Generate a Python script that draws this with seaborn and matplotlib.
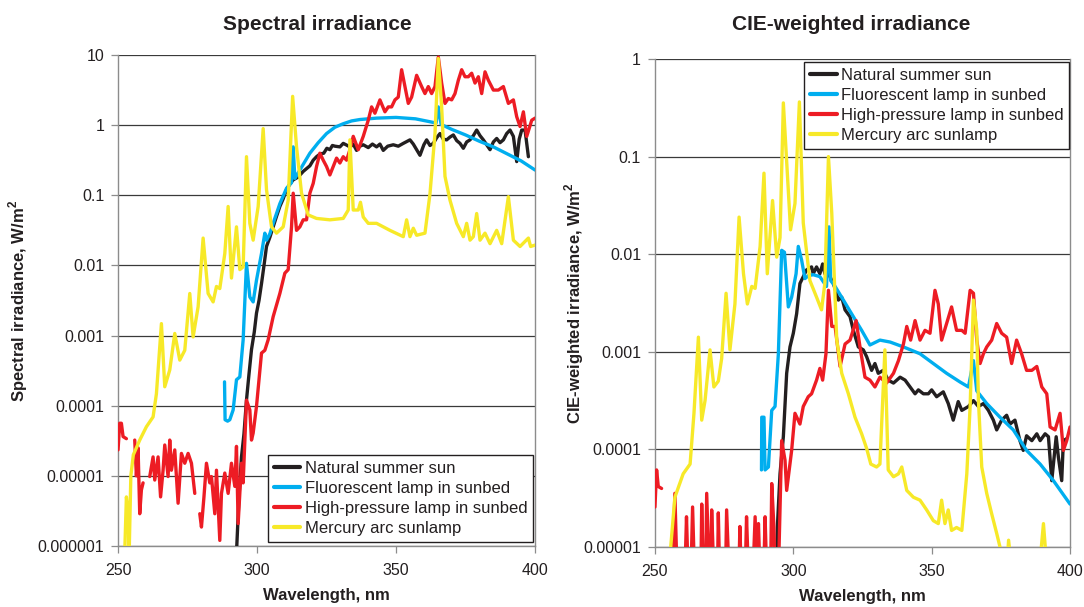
import numpy as np
import pandas as pd
import seaborn as sns
import matplotlib.pyplot as plt
from matplotlib.lines import Line2D

series_names = ['Natural summer sun', 'Fluorescent lamp in sunbed',
                'High-pressure lamp in sunbed', 'Mercury arc sunlamp']
series_colors = ['#231f20', '#00aeef', '#ed1c24', '#f7e928']

nan = np.nan
GAP = (nan, nan)  # break in a trace

# Spectral irradiance: (wavelength nm, log10 of W/m2)
spec_sun = [(292.6, -6.1), (293.5, -5.3), (294.4, -4.73), (295.3, -4.4), (296.2, -3.92), (297.1, -3.55),
            (298.0, -3.20), (299.0, -2.95), (299.8, -2.68), (300.7, -2.50), (301.6, -2.26), (302.5, -2.0),
            (303.4, -1.73), (304.6, -1.60), (305.8, -1.45), (307.0, -1.30), (308.2, -1.16), (309.4, -1.05),
            (310.6, -0.92), (311.8, -0.84), (313.0, -0.78), (314.8, -0.74), (316.6, -0.66), (317.8, -0.62),
            (319.0, -0.58), (320.2, -0.50), (321.4, -0.45), (322.7, -0.41), (324.0, -0.40), (325.1, -0.33),
            (326.2, -0.35), (327.1, -0.29), (328.0, -0.30), (329.8, -0.31), (331.0, -0.26), (332.0, -0.28),
            (333.4, -0.31), (334.6, -0.27), (335.8, -0.36), (337.0, -0.30), (338.2, -0.28), (340.0, -0.32),
            (341.5, -0.27), (343.0, -0.31), (344.2, -0.27), (345.4, -0.36), (347.0, -0.30), (349.0, -0.28),
            (350.8, -0.30), (352.6, -0.26), (355.0, -0.21), (356.2, -0.27), (357.4, -0.35), (358.6, -0.43),
            (360.0, -0.28), (361.0, -0.21), (362.2, -0.29), (363.4, -0.26), (364.6, -0.18), (365.8, -0.12),
            (367.0, -0.20), (368.2, -0.21), (369.4, -0.17), (370.6, -0.14), (371.8, -0.22), (373.0, -0.26),
            (374.2, -0.33), (375.4, -0.24), (376.6, -0.21), (377.8, -0.15), (379.0, -0.07), (380.2, -0.15),
            (381.4, -0.21), (382.6, -0.28), (383.8, -0.35), (385.0, -0.24), (386.2, -0.19), (387.4, -0.25),
            (388.6, -0.21), (389.8, -0.12), (391.0, -0.07), (392.2, -0.16), (393.4, -0.52), (394.3, -0.20),
            (395.2, -0.07), (396.4, -0.07), (397.6, -0.45)]

spec_fluor = [(288.3, -3.66), (288.5, -4.2), (289.4, -4.22), (290.2, -4.2), (291.4, -4.06), (292.6, -3.63),
              (293.8, -3.59), (295.0, -3.06), (296.2, -1.97), (297.4, -2.45), (298.6, -2.52), (299.8, -2.21),
              (301.6, -1.83), (302.8, -1.54), (303.4, -1.64), (304.6, -1.55), (305.8, -1.40), (308.2, -1.12),
              (310.6, -0.90), (312.4, -0.82), (313.0, -0.31), (313.6, -0.76), (316.0, -0.60), (319.0, -0.40),
              (322.0, -0.25), (325.0, -0.12), (328.0, -0.03), (331.0, 0.02), (334.0, 0.06), (337.0, 0.08),
              (343.0, 0.10), (350.0, 0.11), (357.0, 0.09), (362.0, 0.05), (364.4, 0.03), (365.2, 0.26),
              (366.2, 0.01), (370.0, -0.06), (375.0, -0.14), (380.0, -0.23), (385.0, -0.31), (390.0, -0.41),
              (395.0, -0.51), (400.0, -0.64)]

spec_hp = [(250.0, -4.63), (250.6, -4.25), (251.2, -4.25), (251.8, -4.44), (253.0, -4.47), GAP,
           (256.0, -4.49), (256.6, -5.0), (257.2, -4.6), (257.8, -5.54), (258.4, -5.20), (259.0, -5.1), GAP,
           (261.4, -5.01), (262.6, -4.73), (263.2, -5.06), (264.4, -4.73), (265.3, -5.3), (266.2, -4.92),
           (266.8, -4.56), (268.0, -5.01), (268.6, -4.49), (269.2, -4.92), (270.4, -4.63), (271.0, -5.01),
           (271.6, -5.39), (272.8, -4.68), (274.0, -4.82), (275.2, -4.68), (276.4, -4.82), (277.6, -5.25), GAP,
           (279.4, -5.54), (280.0, -5.73), (280.9, -5.3), (281.8, -4.82), (283.0, -5.10), (283.6, -5.01),
           (284.8, -5.54), (285.4, -4.92), (286.6, -5.92), (287.2, -5.25), (288.4, -4.96), (289.6, -5.25),
           (290.8, -4.82), (292.0, -5.15), (292.6, -4.58), (293.2, -5.68), (294.4, -4.82), (295.0, -5.10),
           (296.2, -3.92), (297.4, -4.06), (298.0, -4.49), (298.6, -4.39), (299.8, -4.01), (301.6, -3.25),
           (302.8, -3.21), (304.0, -3.06), (305.8, -2.73), (308.2, -2.40), (310.0, -2.11), (311.2, -2.06),
           (312.4, -1.45), (313.0, -0.97), (314.2, -1.50), (315.4, -1.45), (316.6, -1.35), (317.8, -1.35),
           (319.0, -0.97), (320.2, -0.83), (321.4, -0.59), (322.6, -0.40), (323.8, -0.50), (325.0, -0.59),
           (326.2, -0.71), (327.4, -0.59), (328.6, -0.47), (329.8, -0.54), (331.0, -0.45), (332.2, -0.50),
           (333.4, -0.35), (334.6, -0.16), (336.4, -0.35), (338.2, -0.16), (340.0, 0.07), (341.2, 0.26),
           (342.4, 0.17), (344.2, 0.36), (346.0, 0.19), (347.2, 0.26), (348.4, 0.26), (349.6, 0.36),
           (350.8, 0.40), (352.0, 0.79), (353.2, 0.55), (354.4, 0.31), (355.6, 0.40), (357.4, 0.71),
           (359.2, 0.55), (360.4, 0.45), (361.6, 0.55), (362.8, 0.45), (364.0, 0.55), (365.2, 0.97),
           (366.4, 0.60), (367.6, 0.31), (368.8, 0.38), (370.0, 0.36), (371.2, 0.45), (372.4, 0.64),
           (373.6, 0.79), (374.8, 0.69), (376.0, 0.69), (377.2, 0.74), (378.4, 0.60), (379.6, 0.69),
           (380.8, 0.45), (382.0, 0.76), (383.2, 0.64), (385.0, 0.50), (386.8, 0.50), (388.6, 0.55),
           (390.4, 0.31), (392.2, 0.36), (393.4, 0.12), (394.6, -0.02), (395.8, 0.19), (397.0, -0.16),
           (398.8, 0.07), (400.0, 0.10)]

spec_hg = [(252.4, -6.1), (253.0, -5.3), (253.6, -5.5), (254.0, -6.1), (254.6, -5.0), (255.5, -4.7),
           (257.8, -4.49), (260.2, -4.3), (262.6, -4.16), (263.8, -3.83), (265.6, -2.83), (266.8, -3.73),
           (268.6, -3.49), (270.4, -2.97), (272.2, -3.35), (274.0, -3.21), (275.8, -2.40), (277.0, -3.02),
           (278.8, -2.59), (280.6, -1.61), (282.4, -2.40), (284.2, -2.52), (285.4, -2.30), (286.6, -2.33),
           (288.4, -1.83), (289.6, -1.16), (290.8, -2.18), (292.6, -1.45), (293.8, -2.06), (295.0, -2.02),
           (296.2, -0.45), (297.4, -1.40), (298.6, -1.64), (300.4, -1.16), (302.2, -0.05), (303.4, -0.92),
           (305.2, -1.45), (307.0, -1.54), (309.4, -1.45), (311.2, -1.07), (312.8, 0.41), (314.2, -0.31),
           (316.0, -0.97), (318.4, -1.28), (321.4, -1.33), (326.2, -1.35), (331.0, -1.33), (332.8, -1.21),
           (333.4, -0.21), (334.6, -1.21), (336.4, -1.21), (337.2, -1.10), (338.2, -1.31), (340.0, -1.40),
           (343.0, -1.40), (347.8, -1.50), (352.6, -1.59), (353.8, -1.35), (355.0, -1.59), (356.2, -1.47),
           (357.4, -1.57), (360.4, -1.54), (362.2, -0.98), (364.0, -0.12), (365.2, 0.95), (366.4, 0.26),
           (367.6, -0.73), (369.4, -1.07), (371.8, -1.40), (374.2, -1.59), (375.4, -1.40), (376.6, -1.64),
           (377.8, -1.59), (379.0, -1.26), (380.2, -1.64), (382.0, -1.54), (383.8, -1.69), (386.2, -1.50),
           (388.0, -1.69), (390.4, -1.02), (392.2, -1.64), (394.6, -1.73), (397.6, -1.61), (398.4, -1.73),
           (400.0, -1.71)]

# CIE-weighted irradiance: (wavelength nm, log10 of W/m2)
cie_sun = [(293.8, -5.3), (294.3, -4.76), (295.2, -4.25), (296.4, -3.87), (297.6, -3.22), (298.8, -2.95),
           (300.0, -2.81), (301.2, -2.61), (302.4, -2.30), (303.6, -2.23), (304.8, -2.16), (306.6, -2.13),
           (307.2, -2.20), (308.4, -2.13), (309.6, -2.20), (310.6, -2.10), (311.4, -2.20), (312.7, -2.20),
           (314.5, -2.30), (316.3, -2.47), (317.5, -2.44), (318.7, -2.57), (320.5, -2.64), (321.7, -2.78),
           (323.5, -2.95), (325.3, -2.98), (326.5, -3.05), (328.3, -3.19), (329.5, -3.12), (330.7, -3.22),
           (332.5, -3.19), (334.3, -3.29), (336.2, -3.32), (338.6, -3.26), (340.4, -3.29), (342.2, -3.36),
           (344.0, -3.43), (345.2, -3.39), (347.0, -3.43), (348.8, -3.43), (350.0, -3.39), (351.8, -3.46),
           (354.2, -3.41), (356.0, -3.53), (357.8, -3.70), (359.6, -3.51), (360.9, -3.60), (363.3, -3.56),
           (365.1, -3.50), (366.9, -3.56), (368.7, -3.53), (370.5, -3.60), (372.3, -3.70), (373.5, -3.80),
           (375.3, -3.70), (377.1, -3.65), (378.3, -3.74), (380.1, -3.70), (381.9, -3.91), (383.1, -4.01),
           (384.3, -3.86), (386.2, -3.91), (388.0, -3.84), (389.2, -3.91), (391.0, -3.84), (392.2, -3.87),
           (393.4, -4.32), (395.0, -3.87), (395.8, -4.08), (397.0, -4.32), (397.6, -3.91), (398.8, -3.89)]

cie_fluor = [(288.5, -4.21), (288.6, -3.67), (289.4, -3.67), (289.8, -4.21), (291.0, -4.18), (292.2, -3.60),
             (293.4, -3.56), (294.6, -3.02), (295.8, -1.96), (296.8, -1.98), (298.2, -2.54), (299.4, -2.44),
             (301.0, -2.20), (301.8, -1.92), (303.0, -2.06), (304.2, -2.25), (305.4, -2.22), (307.2, -2.21),
             (309.6, -2.23), (312.0, -2.33), (312.9, -1.72), (313.5, -2.27), (315.1, -2.33), (318.1, -2.47),
             (321.7, -2.64), (324.7, -2.78), (327.7, -2.93), (331.3, -2.88), (335.0, -2.90), (339.8, -2.95),
             (345.8, -3.02), (350.6, -3.12), (355.4, -3.22), (360.3, -3.31), (363.3, -3.36), (365.1, -3.09),
             (366.3, -3.40), (369.9, -3.53), (374.7, -3.67), (379.5, -3.80), (384.3, -4.01), (389.2, -4.15),
             (394.0, -4.32), (400.0, -4.56)]

cie_hp = [(250.0, -4.59), (250.6, -4.21), (251.2, -4.38), (252.4, -4.40), GAP,
          (256.4, -5.3), (257.2, -4.45), (258.0, -5.3), GAP,
          (260.8, -5.3), (261.4, -4.69), (262.0, -5.3), (263.0, -5.3), (263.6, -4.59), (264.3, -5.3), GAP,
          (266.6, -5.3), (266.9, -4.56), (267.5, -5.3), (268.3, -5.3), (268.7, -4.45), (269.6, -5.3),
          (270.1, -5.3), (270.5, -4.62), (271.3, -5.3), GAP,
          (272.6, -5.3), (272.9, -4.65), (273.4, -5.3), GAP,
          (275.5, -5.3), (275.9, -4.62), (276.8, -5.3), GAP,
          (280.3, -5.3), (280.7, -4.79), (281.2, -5.3), GAP,
          (282.6, -5.3), (283.1, -4.69), (283.8, -5.3), (285.4, -5.3), (286.2, -4.69), (286.8, -5.3),
          (287.4, -4.76), (288.0, -5.3), (289.3, -5.3), (289.8, -4.69), (290.4, -5.3), (291.8, -5.3),
          (292.2, -4.35), (293.0, -4.8), (293.4, -5.3), (294.6, -5.3), (295.8, -3.91), (297.0, -4.11),
          (297.6, -4.42), (299.4, -4.01), (300.6, -3.63), (302.4, -3.74), (303.6, -3.56), (305.4, -3.46),
          (306.6, -3.43), (308.4, -3.29), (309.6, -3.17), (310.6, -3.29), (311.8, -3.02), (312.7, -2.37),
          (313.9, -2.74), (315.1, -2.74), (316.9, -3.15), (318.7, -2.92), (320.5, -2.88), (322.7, -2.68),
          (324.1, -2.95), (325.9, -3.26), (327.7, -3.29), (329.5, -3.36), (331.3, -3.26), (333.7, -3.32),
          (336.2, -3.22), (338.0, -3.09), (339.8, -2.92), (341.0, -2.74), (342.4, -2.88), (344.0, -2.68),
          (345.8, -2.88), (347.6, -2.78), (349.4, -2.81), (351.2, -2.37), (352.4, -2.51), (353.6, -2.88),
          (355.4, -2.71), (357.2, -2.54), (359.0, -2.78), (360.9, -2.78), (362.1, -2.81), (363.9, -2.37),
          (365.1, -2.40), (366.3, -2.88), (367.5, -3.12), (368.7, -3.02), (369.9, -2.95), (371.7, -2.88),
          (373.5, -2.71), (375.3, -2.81), (377.1, -2.85), (378.9, -3.12), (380.7, -2.88), (382.5, -3.02),
          (384.3, -3.19), (386.2, -3.19), (388.0, -3.15), (389.8, -3.36), (391.6, -3.43), (392.8, -3.77),
          (394.6, -3.80), (396.4, -3.63), (397.6, -4.01), (398.8, -3.91), (400.0, -3.77)]

cie_hg = [(255.4, -5.1), (257.2, -4.49), (260.2, -4.25), (262.7, -4.15), (264.1, -3.63), (265.7, -2.85),
          (266.9, -3.70), (268.1, -3.50), (269.9, -2.98), (271.3, -3.36), (272.9, -3.30), (274.1, -3.07),
          (275.7, -2.40), (277.1, -2.98), (278.9, -2.51), (280.4, -1.62), (282.0, -2.20), (283.4, -2.51),
          (285.0, -2.33), (286.2, -2.35), (288.0, -1.92), (289.4, -1.17), (290.6, -2.20), (292.5, -1.45),
          (294.0, -2.03), (295.2, -1.83), (296.4, -0.45), (299.0, -1.75), (300.6, -1.48), (302.2, -0.44),
          (303.6, -1.68), (306.0, -2.27), (308.4, -2.44), (310.2, -2.57), (311.4, -2.30), (312.7, -1.0),
          (313.9, -1.58), (315.7, -2.88), (317.5, -3.22), (319.9, -3.43), (322.3, -3.67), (324.7, -3.84),
          (326.5, -3.99), (328.0, -4.15), (330.1, -4.18), (331.3, -4.15), (333.1, -2.98), (334.3, -4.21),
          (336.2, -4.28), (338.0, -4.25), (339.2, -4.18), (341.0, -4.42), (343.4, -4.49), (345.8, -4.52),
          (348.2, -4.62), (350.6, -4.73), (352.4, -4.76), (353.6, -4.52), (354.8, -4.76), (356.0, -4.62),
          (357.2, -4.83), (359.0, -4.80), (360.9, -4.83), (362.7, -4.25), (363.9, -3.56), (365.1, -2.47),
          (366.3, -2.78), (366.9, -3.50), (368.1, -4.18), (369.9, -4.45), (371.7, -4.66), (373.5, -4.86),
          (375.3, -5.07), (376.3, -5.2), GAP, (377.2, -5.2), (377.8, -4.93), (378.8, -5.2), GAP,
          (389.0, -5.2), (390.4, -4.76), (391.6, -5.2)]

spec_ticks = [1e-6, 1e-5, 1e-4, 1e-3, 1e-2, 1e-1, 1, 10]
spec_labels = ['0.000001', '0.00001', '0.0001', '0.001', '0.01', '0.1', '1', '10']
cie_ticks = [1e-5, 1e-4, 1e-3, 1e-2, 1e-1, 1]
cie_labels = ['0.00001', '0.0001', '0.001', '0.01', '0.1', '1']
x_ticks = [250, 300, 350, 400]


def to_frame(points):
    rows, seg = [], 0
    for wl, lg in points:
        if np.isnan(wl):
            seg += 1
            continue
        rows.append((seg, wl, 10 ** lg))
    return pd.DataFrame(rows, columns=['seg', 'wl', 'irr'])


sns.set_theme(style='white')
plt.rcParams['font.family'] = ['Liberation Sans', 'DejaVu Sans']
plt.rcParams['mathtext.fontset'] = 'custom'
plt.rcParams['mathtext.bf'] = 'Liberation Sans:bold'
plt.rcParams['mathtext.rm'] = 'Liberation Sans'
ink = '#231f20'

fig = plt.figure(figsize=(10.84, 6.07), dpi=100)
ax1 = fig.add_axes([0.1089, 0.1005, 0.3847, 0.8089])
ax2 = fig.add_axes([0.6042, 0.0988, 0.3829, 0.8040])

panels = [
    (ax1, [spec_sun, spec_fluor, spec_hp, spec_hg], spec_ticks, spec_labels,
     r'Spectral irradiance, W/m$^\mathbf{2}$', (-0.212, 0.5), (0.995, 0.008), 'lower right'),
    (ax2, [cie_sun, cie_fluor, cie_hp, cie_hg], cie_ticks, cie_labels,
     r'CIE-weighted irradiance, W/m$^\mathbf{2}$', (-0.165, 0.5), (0.998, 0.994), 'upper right'),
]

draw_order = [1, 0, 2, 3]  # fluorescent under sun, mercury on top

for ax, data, ticks, labels, ylab, ylab_xy, leg_xy, leg_loc in panels:
    for i in draw_order:
        df = to_frame(data[i])
        sns.lineplot(data=df, x='wl', y='irr', units='seg', estimator=None, sort=False,
                     color=series_colors[i], lw=2.4, ax=ax, legend=False, zorder=3 + i)
    ax.set_yscale('log')
    ax.set_xlim(250, 400)
    ax.set_ylim(ticks[0], ticks[-1])
    ax.set_yticks(ticks, labels)
    ax.set_xticks(x_ticks)
    ax.minorticks_off()
    ax.set_axisbelow(True)
    ax.grid(axis='y', color='#3a3a3a', lw=0.9)
    ax.grid(axis='x', visible=False)
    for side in ['left', 'bottom', 'right']:
        ax.spines[side].set_color('#8c8c8c')
        ax.spines[side].set_linewidth(1.0)
    ax.spines['top'].set_visible(False)
    ax.tick_params(axis='both', which='major', direction='out', length=5, width=0.9,
                   color='#8c8c8c', labelcolor=ink, labelsize=11.5, left=True, bottom=True)
    ax.tick_params(axis='y', pad=5)
    ax.tick_params(axis='x', pad=7)
    ax.set_xlabel('Wavelength, nm', fontsize=12, fontweight='bold', color=ink)
    ax.set_ylabel(ylab, fontsize=12, fontweight='bold', color=ink)
    ax.xaxis.set_label_coords(0.5, -0.085)
    ax.yaxis.set_label_coords(*ylab_xy)

    handles = [Line2D([], [], color=c, lw=3) for c in series_colors]
    leg = ax.legend(handles, series_names, loc=leg_loc, bbox_to_anchor=leg_xy, fontsize=12,
                    frameon=True, fancybox=False, edgecolor=ink, framealpha=1, borderpad=0.35,
                    labelspacing=0.3, handlelength=1.6, handletextpad=0.25, borderaxespad=0)
    leg.get_frame().set_linewidth(1.0)
    leg.set_zorder(10)
    for t in leg.get_texts():
        t.set_color(ink)

fig.text(317 / 1084, 1 - 24 / 607, 'Spectral irradiance', ha='center', va='center',
         fontsize=15, fontweight='bold', color=ink)
fig.text(851 / 1084, 1 - 24 / 607, 'CIE-weighted irradiance', ha='center', va='center',
         fontsize=15, fontweight='bold', color=ink)

fig.savefig('out.png', dpi=100)
